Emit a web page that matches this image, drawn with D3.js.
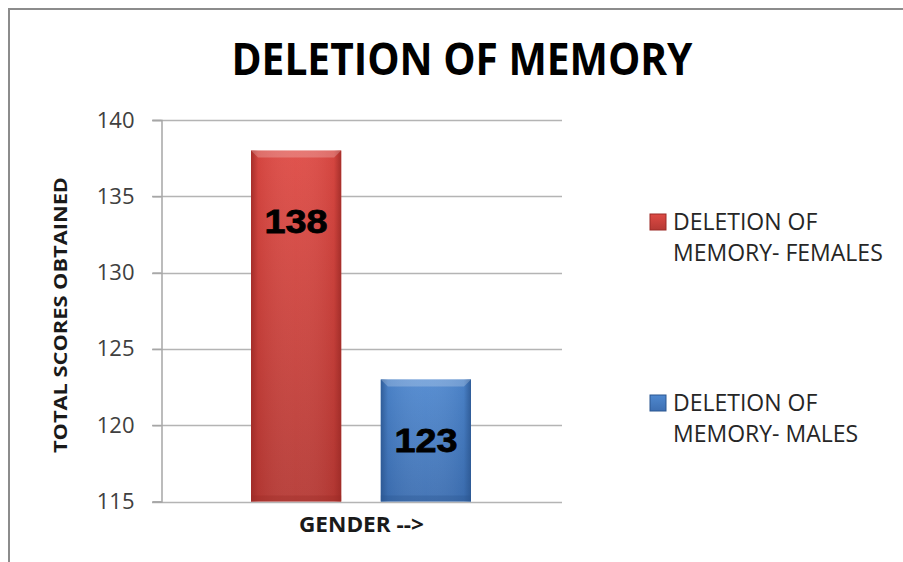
<!DOCTYPE html>
<html>
<head>
<meta charset="utf-8">
<script src="https://cdn.jsdelivr.net/npm/d3@7/dist/d3.min.js"></script>
<style>
  body { margin: 0; background: #fff; }
  text { font-family: "Open Sans", sans-serif; }
</style>
</head>
<body>
<svg width="903" height="562"></svg>
<script>
// data
var categories = ["GENDER -->"];
var series = ["DELETION OF MEMORY- FEMALES", "DELETION OF MEMORY- MALES"];
var values = [138, 123];
var legendLines = [["DELETION OF", "MEMORY- FEMALES"], ["DELETION OF", "MEMORY- MALES"]];
var yTicks = [115, 120, 125, 130, 135, 140];

var colors = [
    { top: "#de4a44", bottom: "#b53934", edge: "#9c2a26" },
    { top: "#4f88cf", bottom: "#3d6fb2", edge: "#2b5690" }
];
var labelDy = [82, 73];

var svg = d3.select("svg");

// outer frame
svg.append("rect")
    .attr("x", 9).attr("y", 9)
    .attr("width", 1000).attr("height", 1000)
    .attr("fill", "none")
    .attr("stroke", "#8c8c8c")
    .attr("stroke-width", 2);

var defs = svg.append("defs");
colors.forEach(function (c, i) {
    var g = defs.append("linearGradient").attr("id", "vg" + i)
        .attr("x1", 0).attr("y1", 0).attr("x2", 0).attr("y2", 1);
    g.append("stop").attr("offset", 0).attr("stop-color", c.top);
    g.append("stop").attr("offset", 1).attr("stop-color", c.bottom);
    var h = defs.append("linearGradient").attr("id", "hg" + i)
        .attr("x1", 0).attr("y1", 0).attr("x2", 1).attr("y2", 0);
    h.append("stop").attr("offset", 0).attr("stop-color", c.edge).attr("stop-opacity", 0.85);
    h.append("stop").attr("offset", 0.08).attr("stop-color", c.edge).attr("stop-opacity", 0.15);
    h.append("stop").attr("offset", 0.5).attr("stop-color", "#fff").attr("stop-opacity", 0.05);
    h.append("stop").attr("offset", 0.92).attr("stop-color", c.edge).attr("stop-opacity", 0.15);
    h.append("stop").attr("offset", 1).attr("stop-color", c.edge).attr("stop-opacity", 0.85);
});

// scales
var y = d3.scaleLinear().domain([115, 140]).range([501.5, 120]);
var x0 = d3.scaleBand().domain(categories).range([161, 562]);
var x1 = d3.scaleBand().domain(series).range([90, 310]).paddingInner(0.305);

// gridlines
svg.append("g")
    .selectAll("line")
    .data(yTicks)
    .enter().append("line")
    .attr("x1", 152).attr("x2", 562)
    .attr("y1", function (d) { return Math.round(y(d)) + 0.5; })
    .attr("y2", function (d) { return Math.round(y(d)) + 0.5; })
    .attr("stroke", "#b4b4b4")
    .attr("stroke-width", 1.5);

// y axis
var yAxis = svg.append("g")
    .attr("transform", "translate(161.5,0)")
    .call(d3.axisLeft(y).tickValues(yTicks).tickSize(9).tickPadding(18));
yAxis.select(".domain").attr("stroke", "#a6a6a6").attr("stroke-width", 1.5);
yAxis.selectAll(".tick line").attr("stroke", "#a6a6a6").attr("stroke-width", 1.5);
yAxis.selectAll(".tick text")
    .attr("font-family", "Open Sans")
    .attr("font-size", 22)
    .attr("fill", "#404040");

// bars
var bars = svg.append("g").selectAll("g")
    .data(values)
    .enter().append("g");

bars.append("rect")
    .attr("x", function (d, i) { return x0(categories[0]) + x1(series[i]); })
    .attr("y", function (d) { return y(d); })
    .attr("width", x1.bandwidth())
    .attr("height", function (d) { return y(115) - y(d); })
    .attr("fill", function (d, i) { return "url(#vg" + i + ")"; });

bars.append("rect")
    .attr("x", function (d, i) { return x0(categories[0]) + x1(series[i]); })
    .attr("y", function (d) { return y(d); })
    .attr("width", x1.bandwidth())
    .attr("height", function (d) { return y(115) - y(d); })
    .attr("fill", function (d, i) { return "url(#hg" + i + ")"; });

// top bevel
bars.append("path")
    .attr("d", function (d, i) {
        var bx = x0(categories[0]) + x1(series[i]), by = y(d), w = x1.bandwidth();
        return "M" + bx + "," + by + "h" + w + "l-7,7h" + (-(w - 14)) + "z";
    })
    .attr("fill", "#fff")
    .attr("opacity", 0.22);

// bottom shade
bars.append("rect")
    .attr("x", function (d, i) { return x0(categories[0]) + x1(series[i]); })
    .attr("y", y(115) - 6)
    .attr("width", x1.bandwidth())
    .attr("height", 6)
    .attr("fill", function (d, i) { return colors[i].edge; })
    .attr("opacity", 0.35);

// value labels
bars.append("text")
    .attr("x", function (d, i) { return x0(categories[0]) + x1(series[i]) + x1.bandwidth() / 2; })
    .attr("y", function (d, i) { return y(d) + labelDy[i]; })
    .attr("text-anchor", "middle")
    .style("font-family", "'Liberation Sans', Arial, sans-serif")
    .attr("font-weight", "bold")
    .attr("font-size", 33)
    .attr("textLength", 63)
    .attr("lengthAdjust", "spacingAndGlyphs")
    .attr("fill", "#000")
    .attr("stroke", "#000")
    .attr("stroke-width", 0.8)
    .text(function (d) { return d; });

// title
svg.append("text")
    .attr("x", 462).attr("y", 75)
    .attr("text-anchor", "middle")
    .attr("font-weight", "bold")
    .attr("font-size", 44)
    .attr("textLength", 461)
    .attr("lengthAdjust", "spacingAndGlyphs")
    .attr("fill", "#000")
    .text("DELETION OF MEMORY");

// axis titles
svg.append("text")
    .attr("transform", "translate(67,315) rotate(-90)")
    .attr("text-anchor", "middle")
    .attr("font-weight", "bold")
    .attr("font-size", 18)
    .attr("textLength", 276)
    .attr("lengthAdjust", "spacingAndGlyphs")
    .attr("fill", "#1a1a1a")
    .text("TOTAL SCORES OBTAINED");

svg.append("text")
    .attr("x", x0(categories[0]) + x0.bandwidth() / 2)
    .attr("y", 532)
    .attr("text-anchor", "middle")
    .attr("font-weight", "bold")
    .attr("font-size", 21)
    .attr("textLength", 125)
    .attr("lengthAdjust", "spacingAndGlyphs")
    .attr("fill", "#1a1a1a")
    .text(categories[0]);

// legend
var legend = svg.append("g").selectAll("g")
    .data(series)
    .enter().append("g")
    .attr("transform", function (d, i) { return "translate(650," + (214 + i * 181) + ")"; });

legend.append("rect")
    .attr("width", 16).attr("height", 16)
    .attr("fill", function (d, i) { return "url(#vg" + i + ")"; })
    .attr("stroke", function (d, i) { return colors[i].edge; })
    .attr("stroke-width", 1);

legend.append("text")
    .attr("x", 23)
    .attr("y", 16)
    .attr("font-size", 23)
    .attr("fill", "#262626")
    .selectAll("tspan")
    .data(function (d, i) { return legendLines[i]; })
    .enter().append("tspan")
    .attr("x", 23)
    .attr("dy", function (d, j) { return j === 0 ? 0 : 31; })
    .text(function (d) { return d; });
</script>
</body>
</html>
